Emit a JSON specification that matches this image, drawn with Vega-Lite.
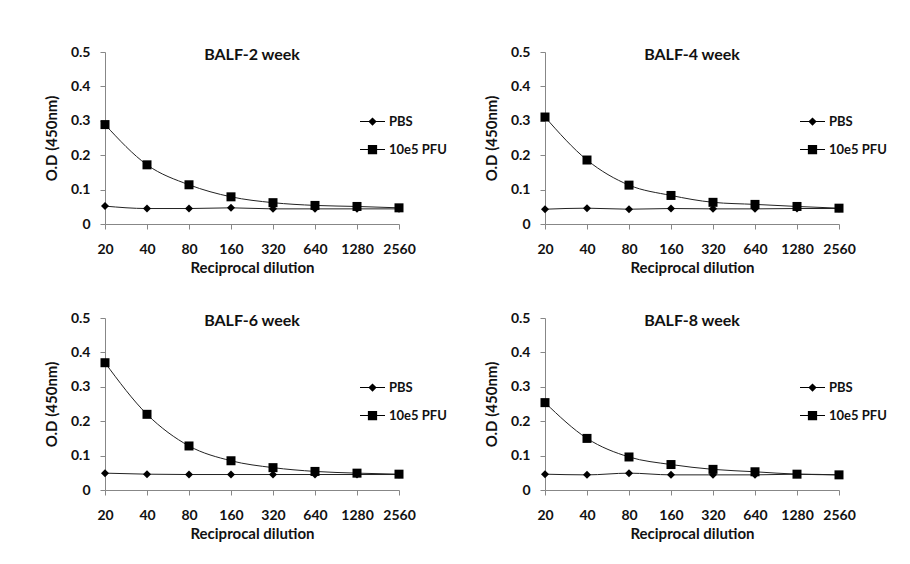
{
  "$schema": "https://vega.github.io/schema/vega-lite/v6.json",
  "padding": {"left": 44, "top": 45, "right": 5, "bottom": 5},
  "background": "white",
  "config": {
    "view": {"stroke": null},
    "font": "Lato",
    "axis": {"grid": false, "domainColor": "#878787", "tickColor": "#878787", "tickSize": 5, "labelFont": "Lato", "labelFontWeight": "bold", "labelFontSize": 14, "labelColor": "#111", "titleFont": "Lato", "titleFontWeight": "bold", "titleFontSize": 15, "titleColor": "#111"},
    "axisX": {"labelAngle": 0, "labelPadding": 13, "titlePadding": 4},
    "axisY": {"labelPadding": 10, "titlePadding": 11},
    "title": {"font": "Lato", "fontWeight": "bold", "fontSize": 16, "color": "#111", "anchor": "middle", "baseline": "alphabetic", "offset": -18},
    "legend": {"orient": "none", "legendX": 255, "legendY": 57, "padding": 0, "labelFont": "Lato", "labelFontWeight": "bold", "labelFontSize": 13, "labelColor": "#111", "labelOffset": 4, "rowPadding": 8, "symbolSize": 625, "symbolStrokeWidth": 0, "symbolOpacity": 1, "symbolFillColor": "black", "symbolStrokeColor": "black"}
  },
  "datasets": {
    "elisa": [
      {"panel": "2", "series": "10e5 PFU", "dilution": 20, "od": 0.289},
      {"panel": "2", "series": "10e5 PFU", "dilution": 40, "od": 0.172},
      {"panel": "2", "series": "10e5 PFU", "dilution": 80, "od": 0.114},
      {"panel": "2", "series": "10e5 PFU", "dilution": 160, "od": 0.079},
      {"panel": "2", "series": "10e5 PFU", "dilution": 320, "od": 0.062},
      {"panel": "2", "series": "10e5 PFU", "dilution": 640, "od": 0.054},
      {"panel": "2", "series": "10e5 PFU", "dilution": 1280, "od": 0.051},
      {"panel": "2", "series": "10e5 PFU", "dilution": 2560, "od": 0.047},
      {"panel": "2", "series": "PBS", "dilution": 20, "od": 0.052},
      {"panel": "2", "series": "PBS", "dilution": 40, "od": 0.045},
      {"panel": "2", "series": "PBS", "dilution": 80, "od": 0.045},
      {"panel": "2", "series": "PBS", "dilution": 160, "od": 0.047},
      {"panel": "2", "series": "PBS", "dilution": 320, "od": 0.044},
      {"panel": "2", "series": "PBS", "dilution": 640, "od": 0.044},
      {"panel": "2", "series": "PBS", "dilution": 1280, "od": 0.044},
      {"panel": "2", "series": "PBS", "dilution": 2560, "od": 0.044},
      {"panel": "4", "series": "10e5 PFU", "dilution": 20, "od": 0.311},
      {"panel": "4", "series": "10e5 PFU", "dilution": 40, "od": 0.186},
      {"panel": "4", "series": "10e5 PFU", "dilution": 80, "od": 0.113},
      {"panel": "4", "series": "10e5 PFU", "dilution": 160, "od": 0.083},
      {"panel": "4", "series": "10e5 PFU", "dilution": 320, "od": 0.063},
      {"panel": "4", "series": "10e5 PFU", "dilution": 640, "od": 0.057},
      {"panel": "4", "series": "10e5 PFU", "dilution": 1280, "od": 0.051},
      {"panel": "4", "series": "10e5 PFU", "dilution": 2560, "od": 0.046},
      {"panel": "4", "series": "PBS", "dilution": 20, "od": 0.043},
      {"panel": "4", "series": "PBS", "dilution": 40, "od": 0.046},
      {"panel": "4", "series": "PBS", "dilution": 80, "od": 0.043},
      {"panel": "4", "series": "PBS", "dilution": 160, "od": 0.045},
      {"panel": "4", "series": "PBS", "dilution": 320, "od": 0.044},
      {"panel": "4", "series": "PBS", "dilution": 640, "od": 0.044},
      {"panel": "4", "series": "PBS", "dilution": 1280, "od": 0.045},
      {"panel": "4", "series": "PBS", "dilution": 2560, "od": 0.045},
      {"panel": "6", "series": "10e5 PFU", "dilution": 20, "od": 0.370},
      {"panel": "6", "series": "10e5 PFU", "dilution": 40, "od": 0.220},
      {"panel": "6", "series": "10e5 PFU", "dilution": 80, "od": 0.128},
      {"panel": "6", "series": "10e5 PFU", "dilution": 160, "od": 0.085},
      {"panel": "6", "series": "10e5 PFU", "dilution": 320, "od": 0.065},
      {"panel": "6", "series": "10e5 PFU", "dilution": 640, "od": 0.054},
      {"panel": "6", "series": "10e5 PFU", "dilution": 1280, "od": 0.049},
      {"panel": "6", "series": "10e5 PFU", "dilution": 2560, "od": 0.046},
      {"panel": "6", "series": "PBS", "dilution": 20, "od": 0.049},
      {"panel": "6", "series": "PBS", "dilution": 40, "od": 0.046},
      {"panel": "6", "series": "PBS", "dilution": 80, "od": 0.045},
      {"panel": "6", "series": "PBS", "dilution": 160, "od": 0.045},
      {"panel": "6", "series": "PBS", "dilution": 320, "od": 0.045},
      {"panel": "6", "series": "PBS", "dilution": 640, "od": 0.045},
      {"panel": "6", "series": "PBS", "dilution": 1280, "od": 0.045},
      {"panel": "6", "series": "PBS", "dilution": 2560, "od": 0.045},
      {"panel": "8", "series": "10e5 PFU", "dilution": 20, "od": 0.254},
      {"panel": "8", "series": "10e5 PFU", "dilution": 40, "od": 0.150},
      {"panel": "8", "series": "10e5 PFU", "dilution": 80, "od": 0.096},
      {"panel": "8", "series": "10e5 PFU", "dilution": 160, "od": 0.074},
      {"panel": "8", "series": "10e5 PFU", "dilution": 320, "od": 0.060},
      {"panel": "8", "series": "10e5 PFU", "dilution": 640, "od": 0.053},
      {"panel": "8", "series": "10e5 PFU", "dilution": 1280, "od": 0.046},
      {"panel": "8", "series": "10e5 PFU", "dilution": 2560, "od": 0.044},
      {"panel": "8", "series": "PBS", "dilution": 20, "od": 0.046},
      {"panel": "8", "series": "PBS", "dilution": 40, "od": 0.044},
      {"panel": "8", "series": "PBS", "dilution": 80, "od": 0.049},
      {"panel": "8", "series": "PBS", "dilution": 160, "od": 0.044},
      {"panel": "8", "series": "PBS", "dilution": 320, "od": 0.044},
      {"panel": "8", "series": "PBS", "dilution": 640, "od": 0.044},
      {"panel": "8", "series": "PBS", "dilution": 1280, "od": 0.046},
      {"panel": "8", "series": "PBS", "dilution": 2560, "od": 0.044}
    ]
  },
  "columns": 2,
  "spacing": {"row": 94, "column": 146},
  "bounds": "flush",
  "resolve": {"scale": {"shape": "independent", "x": "independent", "y": "independent"}, "legend": {"shape": "independent"}},
  "concat": [
    {
      "data": {"name": "elisa"},
      "transform": [{"filter": "datum.panel == '2'"}],
      "width": 294, "height": 172,
      "title": "BALF-2 week",
      "encoding": {
        "x": {"field": "dilution", "type": "ordinal", "scale": {"type": "point", "padding": 0}, "title": "Reciprocal dilution"},
        "y": {"field": "od", "type": "quantitative", "scale": {"domain": [0, 0.5]}, "axis": {"values": [0, 0.1, 0.2, 0.3, 0.4, 0.5], "format": "~g"}, "title": "O.D (450nm)"}
      },
      "layer": [
        {"mark": {"type": "line", "interpolate": "monotone", "color": "#222", "strokeWidth": 1}, "encoding": {"detail": {"field": "series"}}},
        {"transform": [{"filter": "datum.series == 'PBS'"}], "mark": {"type": "point", "shape": "diamond", "filled": true, "color": "black", "opacity": 1, "size": 64}},
        {"transform": [{"filter": "datum.series == '10e5 PFU'"}], "mark": {"type": "point", "shape": "square", "filled": true, "color": "black", "opacity": 1, "size": 81}},
        {"mark": {"type": "point", "filled": true, "color": "black", "opacity": 0, "size": 625},
         "encoding": {"shape": {"field": "series", "type": "nominal", "scale": {"domain": ["PBS", "10e5 PFU"], "range": ["M-1,-0.04H1V0.04H-1ZM0,-0.33L0.33,0L0,0.33L-0.33,0Z", "M-1,-0.04H1V0.04H-1ZM-0.37,-0.37H0.37V0.37H-0.37Z"]}, "legend": {"title": null, "symbolOpacity": 1}}}}
      ]
    },
    {
      "data": {"name": "elisa"},
      "transform": [{"filter": "datum.panel == '4'"}],
      "width": 294, "height": 172,
      "title": "BALF-4 week",
      "encoding": {
        "x": {"field": "dilution", "type": "ordinal", "scale": {"type": "point", "padding": 0}, "title": "Reciprocal dilution"},
        "y": {"field": "od", "type": "quantitative", "scale": {"domain": [0, 0.5]}, "axis": {"values": [0, 0.1, 0.2, 0.3, 0.4, 0.5], "format": "~g"}, "title": "O.D (450nm)"}
      },
      "layer": [
        {"mark": {"type": "line", "interpolate": "monotone", "color": "#222", "strokeWidth": 1}, "encoding": {"detail": {"field": "series"}}},
        {"transform": [{"filter": "datum.series == 'PBS'"}], "mark": {"type": "point", "shape": "diamond", "filled": true, "color": "black", "opacity": 1, "size": 64}},
        {"transform": [{"filter": "datum.series == '10e5 PFU'"}], "mark": {"type": "point", "shape": "square", "filled": true, "color": "black", "opacity": 1, "size": 81}},
        {"mark": {"type": "point", "filled": true, "color": "black", "opacity": 0, "size": 625},
         "encoding": {"shape": {"field": "series", "type": "nominal", "scale": {"domain": ["PBS", "10e5 PFU"], "range": ["M-1,-0.04H1V0.04H-1ZM0,-0.33L0.33,0L0,0.33L-0.33,0Z", "M-1,-0.04H1V0.04H-1ZM-0.37,-0.37H0.37V0.37H-0.37Z"]}, "legend": {"title": null, "symbolOpacity": 1}}}}
      ]
    },
    {
      "data": {"name": "elisa"},
      "transform": [{"filter": "datum.panel == '6'"}],
      "width": 294, "height": 172,
      "title": "BALF-6 week",
      "encoding": {
        "x": {"field": "dilution", "type": "ordinal", "scale": {"type": "point", "padding": 0}, "title": "Reciprocal dilution"},
        "y": {"field": "od", "type": "quantitative", "scale": {"domain": [0, 0.5]}, "axis": {"values": [0, 0.1, 0.2, 0.3, 0.4, 0.5], "format": "~g"}, "title": "O.D (450nm)"}
      },
      "layer": [
        {"mark": {"type": "line", "interpolate": "monotone", "color": "#222", "strokeWidth": 1}, "encoding": {"detail": {"field": "series"}}},
        {"transform": [{"filter": "datum.series == 'PBS'"}], "mark": {"type": "point", "shape": "diamond", "filled": true, "color": "black", "opacity": 1, "size": 64}},
        {"transform": [{"filter": "datum.series == '10e5 PFU'"}], "mark": {"type": "point", "shape": "square", "filled": true, "color": "black", "opacity": 1, "size": 81}},
        {"mark": {"type": "point", "filled": true, "color": "black", "opacity": 0, "size": 625},
         "encoding": {"shape": {"field": "series", "type": "nominal", "scale": {"domain": ["PBS", "10e5 PFU"], "range": ["M-1,-0.04H1V0.04H-1ZM0,-0.33L0.33,0L0,0.33L-0.33,0Z", "M-1,-0.04H1V0.04H-1ZM-0.37,-0.37H0.37V0.37H-0.37Z"]}, "legend": {"title": null, "symbolOpacity": 1}}}}
      ]
    },
    {
      "data": {"name": "elisa"},
      "transform": [{"filter": "datum.panel == '8'"}],
      "width": 294, "height": 172,
      "title": "BALF-8 week",
      "encoding": {
        "x": {"field": "dilution", "type": "ordinal", "scale": {"type": "point", "padding": 0}, "title": "Reciprocal dilution"},
        "y": {"field": "od", "type": "quantitative", "scale": {"domain": [0, 0.5]}, "axis": {"values": [0, 0.1, 0.2, 0.3, 0.4, 0.5], "format": "~g"}, "title": "O.D (450nm)"}
      },
      "layer": [
        {"mark": {"type": "line", "interpolate": "monotone", "color": "#222", "strokeWidth": 1}, "encoding": {"detail": {"field": "series"}}},
        {"transform": [{"filter": "datum.series == 'PBS'"}], "mark": {"type": "point", "shape": "diamond", "filled": true, "color": "black", "opacity": 1, "size": 64}},
        {"transform": [{"filter": "datum.series == '10e5 PFU'"}], "mark": {"type": "point", "shape": "square", "filled": true, "color": "black", "opacity": 1, "size": 81}},
        {"mark": {"type": "point", "filled": true, "color": "black", "opacity": 0, "size": 625},
         "encoding": {"shape": {"field": "series", "type": "nominal", "scale": {"domain": ["PBS", "10e5 PFU"], "range": ["M-1,-0.04H1V0.04H-1ZM0,-0.33L0.33,0L0,0.33L-0.33,0Z", "M-1,-0.04H1V0.04H-1ZM-0.37,-0.37H0.37V0.37H-0.37Z"]}, "legend": {"title": null, "symbolOpacity": 1}}}}
      ]
    }
  ]
}
